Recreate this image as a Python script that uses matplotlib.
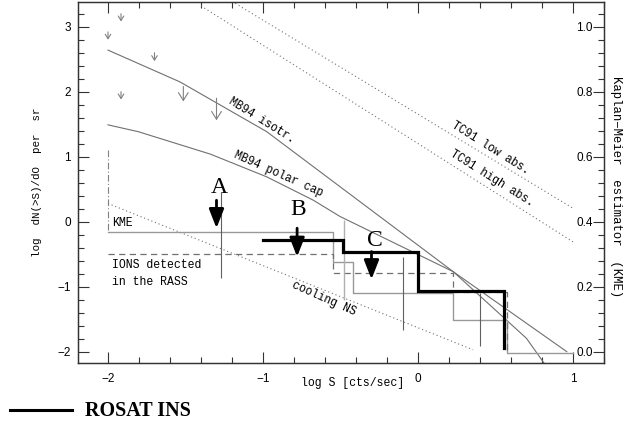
import matplotlib.pyplot as plt
from matplotlib.lines import Line2D
from matplotlib.ticker import MultipleLocator

# model curves, log S vs log N(>S)
mb94_isotr_x = [-2.0, -1.535, -0.976, 0.228, 0.70, 0.85]
mb94_isotr_y = [2.64, 2.15, 1.385, -0.77, -1.795, -2.3]
mb94_polar_x = [-2.0, -1.805, -1.34, -0.976, -0.675, -0.503, 0.228, 0.96]
mb94_polar_y = [1.49, 1.385, 1.04, 0.69, 0.33, 0.08, -0.77, -2.0]
tc91_low_x = [-1.2, 1.0]
tc91_low_y = [3.39, 0.206]
tc91_high_x = [-1.4, 1.0]
tc91_high_y = [3.32, -0.31]
cooling_x = [-2.0, 0.355]
cooling_y = [0.28, -1.97]

# step functions
kme_x = [-2.0, -0.546, -0.546, -0.417, -0.417, 0.228, 0.228, 0.572, 0.572, 1.0]
kme_y = [-0.154, -0.154, -0.615, -0.615, -1.09, -1.09, -1.51, -1.51, -2.02, -2.02]
ions_x = [-2.0, -0.546, -0.546, 0.228, 0.228, 0.572, 0.572]
ions_y = [-0.497, -0.497, -0.79, -0.79, -1.08, -1.08, -2.02]
rosat_x = [-1.0, -0.482, -0.482, 0.0, 0.0, 0.555, 0.555]
rosat_y = [-0.28, -0.28, -0.46, -0.46, -1.07, -1.07, -1.95]

# error bars
err_x = [-1.27, -0.099, 0.40]
err_lo = [-0.87, -1.67, -1.92]
err_hi = [0.45, -0.54, -1.10]
kme_err_x = [-0.48]
kme_err_lo = [-1.2]
kme_err_hi = [0.03]

# upper limits (small grey arrows)
lim_x = [-1.916, -2.0, -1.70, -1.916, -1.514, -1.30]
lim_top = [3.20, 2.92, 2.60, 2.00, 2.08, 1.90]
lim_tip = [3.08, 2.80, 2.47, 1.88, 1.85, 1.56]

# labelled upper limits A, B, C
abc_names = ["A", "B", "C"]
abc_x = [-1.30, -0.78, -0.30]
abc_top = [0.33, -0.10, -0.46]
abc_tip = [-0.10, -0.54, -0.886]
abc_label_x = [-1.284, -0.774, -0.28]
abc_label_y = [0.52, 0.18, -0.29]

mono = "Liberation Mono"
sans = "Liberation Sans"
serif = "Liberation Serif"

fig = plt.figure(figsize=(6.24, 4.21), dpi=100)
ax = fig.add_axes([78 / 624, 1 - 363 / 421, 526 / 624, 361 / 421])

ax.plot(mb94_isotr_x, mb94_isotr_y, color="#707070", lw=0.8)
ax.plot(mb94_polar_x, mb94_polar_y, color="#707070", lw=0.8)
ax.plot(tc91_low_x, tc91_low_y, color="#707070", lw=0.8, ls=(0, (1, 2.5)))
ax.plot(tc91_high_x, tc91_high_y, color="#707070", lw=0.8, ls=(0, (1, 2.5)))
ax.plot(cooling_x, cooling_y, color="#707070", lw=0.8, ls=(0, (1, 2.5)))

ax.plot([-2.0, -2.0], [1.1, -0.154], color="#808080", lw=0.8, ls=(0, (6, 2, 1, 2)))
ax.plot(kme_x, kme_y, color="#999999", lw=1.0)
ax.plot(ions_x, ions_y, color="#707070", lw=0.9, ls=(0, (5, 3.5)))
ax.vlines(err_x, err_lo, err_hi, color="#606060", lw=0.8)
ax.vlines(kme_err_x, kme_err_lo, kme_err_hi, color="#b0b0b0", lw=1.0)
ax.plot(rosat_x, rosat_y, color="black", lw=2.3, solid_joinstyle="miter")

for x, y0, y1 in zip(lim_x, lim_top, lim_tip):
    big = (y0 - y1) > 0.2
    hw = 0.35 if big else 0.2
    ax.annotate("", xy=(x, y1), xytext=(x, y0),
                arrowprops=dict(arrowstyle=f"->,head_width={hw},head_length={hw * 1.6}",
                                color="#808080", lw=0.8, shrinkA=0, shrinkB=0))

for name, x, y0, y1, lx, ly in zip(abc_names, abc_x, abc_top, abc_tip, abc_label_x, abc_label_y):
    ax.annotate("", xy=(x, y1), xytext=(x, y0),
                arrowprops=dict(arrowstyle="-|>,head_width=0.45,head_length=1.15",
                                color="black", lw=2.0, shrinkA=0, shrinkB=0))
    ax.text(lx, ly, name, family=serif, fontsize=17, ha="center", va="center")

ax.text(-1.01, 1.55, "MB94 isotr.", family=mono, fontsize=8.3, rotation=-32,
        ha="center", va="center")
ax.text(-0.90, 0.73, "MB94 polar cap", family=mono, fontsize=8.3, rotation=-24,
        ha="center", va="center")
ax.text(-0.61, -1.18, "cooling NS", family=mono, fontsize=8.3, rotation=-24,
        ha="center", va="center")
ax.text(0.465, 1.13, "TC91 low abs.", family=mono, fontsize=8.3, rotation=-32,
        ha="center", va="center")
ax.text(0.48, 0.665, "TC91 high abs.", family=mono, fontsize=8.3, rotation=-32,
        ha="center", va="center")
ax.text(-1.976, -0.02, "KME", family=mono, fontsize=8.3, ha="left", va="center")
ax.text(-1.976, -0.666, "IONS detected", family=mono, fontsize=8.3, ha="left", va="center")
ax.text(-1.976, -0.923, "in the RASS", family=mono, fontsize=8.3, ha="left", va="center")

ax.set_xlim(-2.1935, 1.2)
ax.set_ylim(-2.174, 3.38)
ax.xaxis.set_major_locator(MultipleLocator(1))
ax.xaxis.set_minor_locator(MultipleLocator(0.2))
ax.yaxis.set_major_locator(MultipleLocator(1))
ax.yaxis.set_minor_locator(MultipleLocator(0.2))
ax.tick_params(which="both", direction="in", top=True, right=False, color="#333333",
               width=0.8, labelsize=8.5)
ax.tick_params(which="major", length=8)
ax.tick_params(which="minor", length=4.5)
ax.tick_params(axis="x", pad=7)
ax.tick_params(axis="y", pad=5)
for lab in ax.get_xticklabels() + ax.get_yticklabels():
    lab.set_family(sans)

ax2 = ax.twinx()
ax2.set_ylim((-2.174 + 2) / 5, (3.38 + 2) / 5)
ax2.yaxis.set_major_locator(MultipleLocator(0.2))
ax2.yaxis.set_minor_locator(MultipleLocator(0.04))
ax2.yaxis.set_major_formatter(lambda v, p: f"{v:.1f}")
ax2.tick_params(which="both", direction="in", color="#333333", width=0.8,
                labelsize=8.5, pad=-8)
ax2.tick_params(which="major", length=8)
ax2.tick_params(which="minor", length=4.5)
for lab in ax2.get_yticklabels():
    lab.set_family(sans)
    lab.set_horizontalalignment("right")

for a in (ax, ax2):
    for s in a.spines.values():
        s.set_linewidth(0.9)
        s.set_color("#333333")

fig.text(353 / 624, 1 - 383 / 421, "log S [cts/sec]", family=mono, fontsize=8.3,
         ha="center", va="center")
fig.text(37 / 624, 1 - 182.5 / 421, "log  dN(>S)/dO  per  sr", family=mono, fontsize=7.8,
         rotation=90, ha="center", va="center")
fig.text(616 / 624, 1 - 186.5 / 421, "Kaplan\u2212Meier  estimator  (KME)", family=mono,
         fontsize=8.8, rotation=-90, ha="center", va="center")

fig.add_artist(Line2D([10 / 624, 72 / 624], [1 - 410 / 421, 1 - 410 / 421],
                      color="black", lw=2.2))
fig.text(85 / 624, 1 - 411 / 421, "ROSAT INS", family=serif, fontsize=14.5,
         weight="bold", ha="left", va="center")

fig.savefig("out.png", dpi=100)
